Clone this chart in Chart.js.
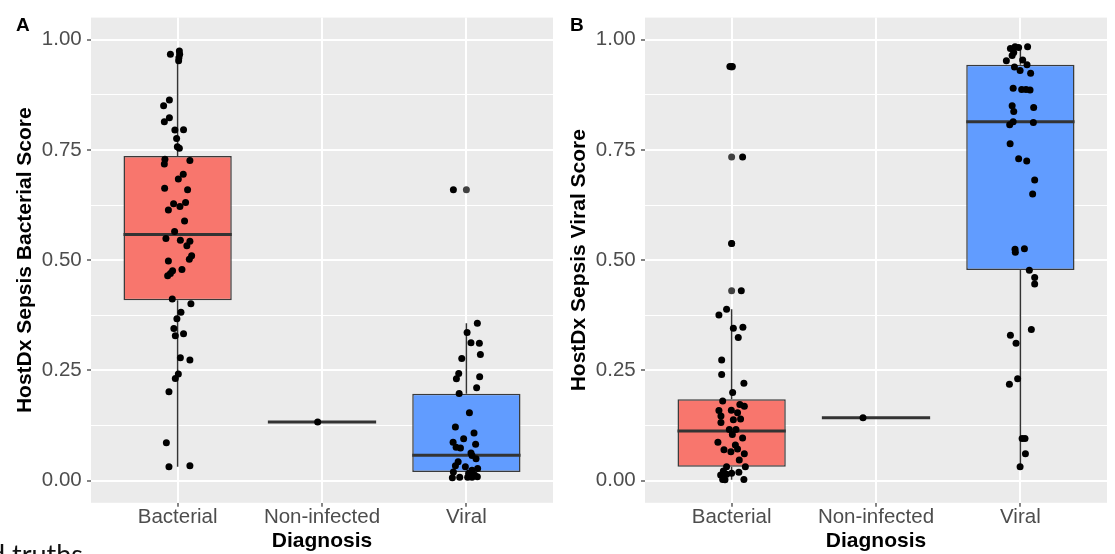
<!DOCTYPE html>
<html>
<head>
<meta charset="utf-8">
<title>HostDx Sepsis scores by diagnosis</title>
<script src="https://cdn.jsdelivr.net/npm/chart.js@4.4.1/dist/chart.umd.min.js"></script>
<style>
    body { margin: 0; background: #fff; width: 1115px; height: 554px; overflow: hidden; position: relative; }
    canvas { position: absolute; top: 0; }
    #panelA { left: 0; }
    #panelB { left: 554px; }
    .cut { position: absolute; left: -10px; top: 537px; font: 27px Lato, sans-serif; color: #111; white-space: nowrap; }
</style>
</head>
<body>
<canvas id="panelA" width="557" height="554"></canvas>
<canvas id="panelB" width="557" height="554"></canvas>
<div class="cut">d truths</div>
<script>
const categories = ["Bacterial", "Non-infected", "Viral"]
const yTicks = [0, 0.25, 0.5, 0.75, 1]
const yMinor = [0.125, 0.375, 0.625, 0.875]
const boxColors = ["#F8766D", "#00BA38", "#619CFF"]

// [whisker low, Q1, median, Q3, whisker high] for each diagnosis
const statsA = [
    [0.032, 0.409, 0.558, 0.736, 0.974],
    [0.133, 0.133, 0.133, 0.133, 0.133],
    [0.007, 0.020, 0.058, 0.197, 0.357]
]
const statsB = [
    [0.002, 0.032, 0.113, 0.185, 0.389],
    [0.143, 0.143, 0.143, 0.143, 0.143],
    [0.032, 0.478, 0.814, 0.943, 0.984]
]
const outliersA = [[], [], [0.66]]
const outliersB = [[0.938, 0.734, 0.538, 0.431], [], []]

// jittered points: [offset from the category, score]
const bacterialA = [
    [-0.050, 0.967], [0.012, 0.974], [0.014, 0.967], [0.009, 0.959], [0.007, 0.952],
    [-0.057, 0.863], [-0.097, 0.850], [-0.057, 0.823], [-0.092, 0.814], [-0.019, 0.795],
    [0.041, 0.796], [-0.007, 0.776], [-0.002, 0.757], [0.012, 0.754], [-0.088, 0.729],
    [-0.092, 0.718], [0.085, 0.726], [0.039, 0.695], [0.005, 0.684], [-0.090, 0.663],
    [0.069, 0.660], [-0.028, 0.628], [0.016, 0.622], [0.055, 0.631], [-0.064, 0.614],
    [0.048, 0.589], [-0.021, 0.565], [-0.081, 0.549], [0.019, 0.545], [0.085, 0.543],
    [0.064, 0.533], [0.097, 0.510], [0.081, 0.502], [-0.064, 0.498], [0.030, 0.479],
    [-0.035, 0.476], [-0.050, 0.470], [-0.069, 0.465], [-0.037, 0.412], [0.092, 0.401],
    [0.023, 0.382], [-0.005, 0.367], [-0.026, 0.345], [-0.016, 0.329], [0.041, 0.333],
    [0.019, 0.279], [0.085, 0.274], [0.005, 0.242], [-0.016, 0.232], [-0.060, 0.202],
    [-0.078, 0.086], [-0.060, 0.032], [0.085, 0.034]
]
const noninfectedA = [[-0.03, 0.133]]
const viralA = [
    [-0.090, 0.660], [0.076, 0.357], [0.005, 0.336], [0.032, 0.313], [0.090, 0.312],
    [0.097, 0.286], [-0.032, 0.277], [-0.053, 0.243], [-0.069, 0.231], [0.092, 0.236],
    [0.071, 0.211], [-0.050, 0.198], [0.021, 0.154], [-0.076, 0.122], [0.053, 0.108],
    [-0.019, 0.095], [-0.092, 0.087], [-0.071, 0.076], [-0.041, 0.074], [0.064, 0.083],
    [0.032, 0.063], [0.039, 0.057], [0.067, 0.050], [-0.057, 0.043], [-0.076, 0.034],
    [-0.007, 0.032], [0.078, 0.028], [0.039, 0.024], [-0.090, 0.020], [0.016, 0.017],
    [0.057, 0.013], [-0.097, 0.007], [-0.046, 0.008], [0.009, 0.008], [0.039, 0.008],
    [0.076, 0.009]
]
const bacterialB = [
    [-0.012, 0.939], [0.005, 0.939], [0.076, 0.734], [0.000, 0.538], [0.067, 0.431],
    [-0.035, 0.389], [-0.088, 0.376], [0.012, 0.346], [0.078, 0.348], [0.046, 0.325],
    [-0.069, 0.274], [-0.069, 0.241], [0.085, 0.221], [0.007, 0.200], [-0.062, 0.181],
    [0.057, 0.173], [0.088, 0.169], [-0.088, 0.159], [-0.002, 0.160], [0.041, 0.154],
    [-0.074, 0.147], [0.012, 0.138], [0.062, 0.140], [-0.074, 0.132], [-0.016, 0.116],
    [0.030, 0.116], [0.005, 0.105], [-0.095, 0.087], [0.076, 0.097], [-0.053, 0.070],
    [0.026, 0.081], [-0.005, 0.066], [0.041, 0.072], [0.088, 0.061], [0.053, 0.047],
    [0.095, 0.032], [-0.035, 0.032], [-0.057, 0.022], [-0.076, 0.013], [-0.035, 0.015],
    [0.000, 0.017], [0.050, 0.019], [-0.062, 0.003], [-0.046, 0.002], [0.085, 0.003]
]
const noninfectedB = [[-0.09, 0.143]]
const viralB = [
    [-0.069, 0.980], [-0.037, 0.984], [-0.012, 0.982], [0.050, 0.984], [-0.046, 0.971],
    [-0.057, 0.964], [-0.097, 0.952], [0.016, 0.954], [0.046, 0.943], [-0.041, 0.938],
    [-0.002, 0.930], [0.071, 0.924], [-0.050, 0.890], [0.009, 0.887], [0.039, 0.887],
    [0.067, 0.886], [-0.057, 0.850], [-0.046, 0.837], [0.092, 0.846], [-0.074, 0.807],
    [-0.050, 0.814], [0.090, 0.812], [-0.071, 0.764], [-0.012, 0.730], [0.044, 0.725],
    [0.099, 0.682], [0.085, 0.650], [-0.037, 0.525], [-0.035, 0.518], [0.028, 0.526],
    [0.062, 0.477], [0.099, 0.461], [0.099, 0.446], [0.076, 0.343], [-0.069, 0.330],
    [-0.030, 0.312], [-0.019, 0.231], [-0.076, 0.219], [0.012, 0.096], [0.032, 0.096],
    [0.035, 0.061], [-0.002, 0.032]
]

const halfBox = 0.375
const font = "'Liberation Sans', Arial, Helvetica, sans-serif"
Chart.defaults.font.family = font

// grey panel and the panel letter
const panelBackground = {
    id: "panelBackground",
    beforeDraw(chart, args, opts) {
        const { ctx, chartArea } = chart
        ctx.save()
        ctx.fillStyle = "#EBEBEB"
        ctx.fillRect(chartArea.left, chartArea.top, chartArea.width, chartArea.height)
        ctx.fillStyle = "#000"
        ctx.font = "bold 19px " + font
        ctx.fillText(opts.label, 16, 31)
        ctx.restore()
    }
}

function isMajor(value) {
    return yTicks.some(t => Math.abs(t - value) < 1e-9)
}

function drawPanel(canvasId, label, yTitle, stats, outliers, groups, rightPad) {
    const boxes = stats.map((s, i) => ({ x: i, y: [s[1], s[3]] }))
    const medians = []
    const whiskers = []
    stats.forEach((s, i) => {
        medians.push({ x: i - halfBox, y: s[2] }, { x: i + halfBox, y: s[2] }, { x: i, y: null })
        whiskers.push({ x: i, y: s[0] }, { x: i, y: s[1] }, { x: i, y: null })
        whiskers.push({ x: i, y: s[3] }, { x: i, y: s[4] }, { x: i, y: null })
    })
    const outlierPoints = []
    outliers.forEach((list, i) => list.forEach(v => outlierPoints.push({ x: i, y: v })))
    const jitter = []
    groups.forEach((list, i) => list.forEach(p => jitter.push({ x: i + p[0], y: p[1] })))

    return new Chart(document.getElementById(canvasId), {
        type: "scatter",
        data: {
            datasets: [
                {
                    type: "scatter",
                    data: jitter,
                    backgroundColor: "#000",
                    borderWidth: 0,
                    pointRadius: 3.5,
                    order: 0
                },
                {
                    type: "scatter",
                    data: outlierPoints,
                    backgroundColor: "#404040",
                    borderWidth: 0,
                    pointRadius: 3.5,
                    order: 1
                },
                {
                    type: "line",
                    data: medians,
                    borderColor: "#333333",
                    borderWidth: 3,
                    pointRadius: 0,
                    spanGaps: false,
                    order: 2
                },
                {
                    type: "bar",
                    data: boxes,
                    backgroundColor: boxColors,
                    borderColor: "#3a3a3a",
                    borderWidth: 1.5,
                    borderSkipped: false,
                    barPercentage: 0.75,
                    categoryPercentage: 1,
                    order: 3
                },
                {
                    type: "line",
                    data: whiskers,
                    borderColor: "#333333",
                    borderWidth: 1.5,
                    pointRadius: 0,
                    spanGaps: false,
                    order: 4
                }
            ]
        },
        options: {
            responsive: false,
            animation: false,
            events: [],
            layout: { padding: { top: 16.6, right: rightPad, left: 0, bottom: 0 } },
            plugins: {
                legend: { display: false },
                tooltip: { enabled: false },
                panelBackground: { label: label }
            },
            scales: {
                x: {
                    type: "linear",
                    min: -0.6,
                    max: 2.6,
                    offset: false,
                    afterBuildTicks: axis => { axis.ticks = categories.map((c, i) => ({ value: i })) },
                    afterFit: axis => { axis.height = 51.2 },
                    ticks: {
                        callback: value => categories[value] ?? "",
                        color: "#4D4D4D",
                        font: { size: 20.5 },
                        padding: -2,
                        maxRotation: 0,
                        autoSkip: false
                    },
                    grid: { color: "#FFFFFF", lineWidth: 2, tickColor: "#333333", tickWidth: 1.2, tickLength: 4, offset: false },
                    border: { display: false },
                    title: {
                        display: true,
                        text: "Diagnosis",
                        color: "#000",
                        font: { size: 21, weight: "bold" },
                        padding: { top: 0, bottom: 0 }
                    }
                },
                y: {
                    min: -0.05,
                    max: 1.05,
                    afterBuildTicks: axis => {
                        axis.ticks = [...yTicks, ...yMinor].sort((a, b) => a - b).map(v => ({ value: v }))
                    },
                    afterFit: axis => { axis.width = 91 },
                    ticks: {
                        callback: value => isMajor(value) ? value.toFixed(2) : "",
                        color: "#4D4D4D",
                        font: { size: 20.5 },
                        padding: 5.3,
                        autoSkip: false
                    },
                    grid: {
                        color: "#FFFFFF",
                        lineWidth: ctx => isMajor(ctx.tick.value) ? 2 : 1,
                        tickColor: ctx => isMajor(ctx.tick.value) ? "#333333" : "rgba(0,0,0,0)",
                        tickWidth: 1.2,
                        tickLength: 4
                    },
                    border: { display: false },
                    title: {
                        display: true,
                        text: yTitle,
                        color: "#000",
                        font: { size: 21, weight: "bold" },
                        padding: { top: 13, bottom: 0 }
                    }
                }
            }
        },
        plugins: [panelBackground]
    })
}

drawPanel("panelA", "A", "HostDx Sepsis Bacterial Score", statsA, outliersA, [bacterialA, noninfectedA, viralA], 2.4)
drawPanel("panelB", "B", "HostDx Sepsis Viral Score", statsB, outliersB, [bacterialB, noninfectedB, viralB], 3)
</script>
</body>
</html>
